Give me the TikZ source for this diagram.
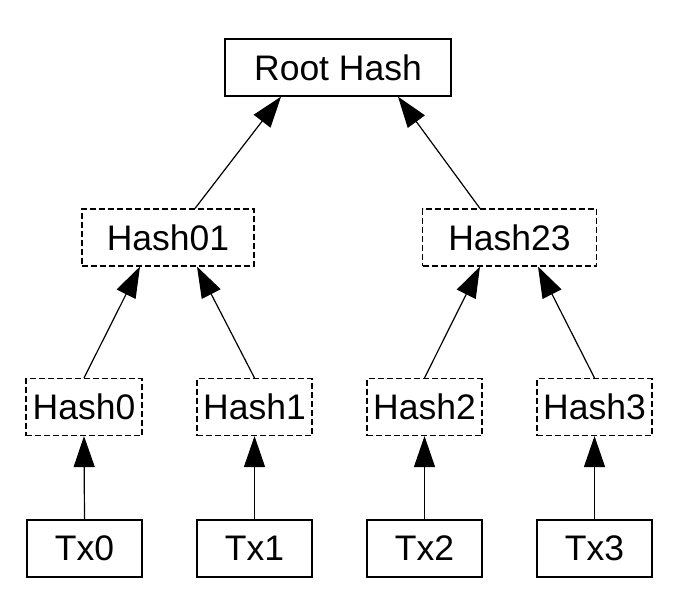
\documentclass[tikz,border=0pt]{standalone}
\usepackage{fontspec}
\setmainfont{Liberation Sans}
\usetikzlibrary{arrows.meta}
\begin{document}
\begin{tikzpicture}[x=1pt,y=-1pt,
  solidbox/.style={draw, line width=1.3pt, minimum height=57pt, inner sep=0pt, font=\fontsize{35.5}{40}\selectfont},
  dashbox/.style={solidbox, line width=1.1pt, dash pattern=on 6pt off 3pt},
  link/.style={line width=1.2pt, -{Triangle[length=31pt,width=21pt]}}]
\useasboundingbox (0,0) rectangle (688,611);
\node[solidbox, minimum width=226pt] (root) at (338,67.5) {Root Hash};
\node[dashbox, minimum width=172pt] (h01) at (168,237.5) {Hash01};
\node[dashbox, minimum width=174pt] (h23) at (509.5,237.5) {Hash23};
\node[dashbox, minimum width=116pt] (h0) at (84,407) {Hash0};
\node[dashbox, minimum width=115pt] (h1) at (254.5,407) {Hash1};
\node[dashbox, minimum width=115pt] (h2) at (424.5,407) {Hash2};
\node[dashbox, minimum width=115pt] (h3) at (594.5,407) {Hash3};
\node[solidbox, minimum width=115pt] (t0) at (84.5,548.5) {Tx0};
\node[solidbox, minimum width=115pt] (t1) at (254.5,548.5) {Tx1};
\node[solidbox, minimum width=115pt] (t2) at (424.5,548.5) {Tx2};
\node[solidbox, minimum width=115pt] (t3) at (594.5,548.5) {Tx3};
\draw[link] ([xshift=27pt]h01.north) -- ([xshift=-57pt]root.south);
\draw[link] ([xshift=-29.5pt]h23.north) -- ([xshift=60pt]root.south);
\draw[link] (h0.north) -- ([xshift=-28pt]h01.south);
\draw[link] (h1.north) -- ([xshift=29pt]h01.south);
\draw[link] (h2.north) -- ([xshift=-29.5pt]h23.south);
\draw[link] (h3.north) -- ([xshift=28.5pt]h23.south);
\draw[link] (t0.north) -- (h0.south);
\draw[link] (t1.north) -- (h1.south);
\draw[link] (t2.north) -- (h2.south);
\draw[link] (t3.north) -- (h3.south);
\end{tikzpicture}
\end{document}
